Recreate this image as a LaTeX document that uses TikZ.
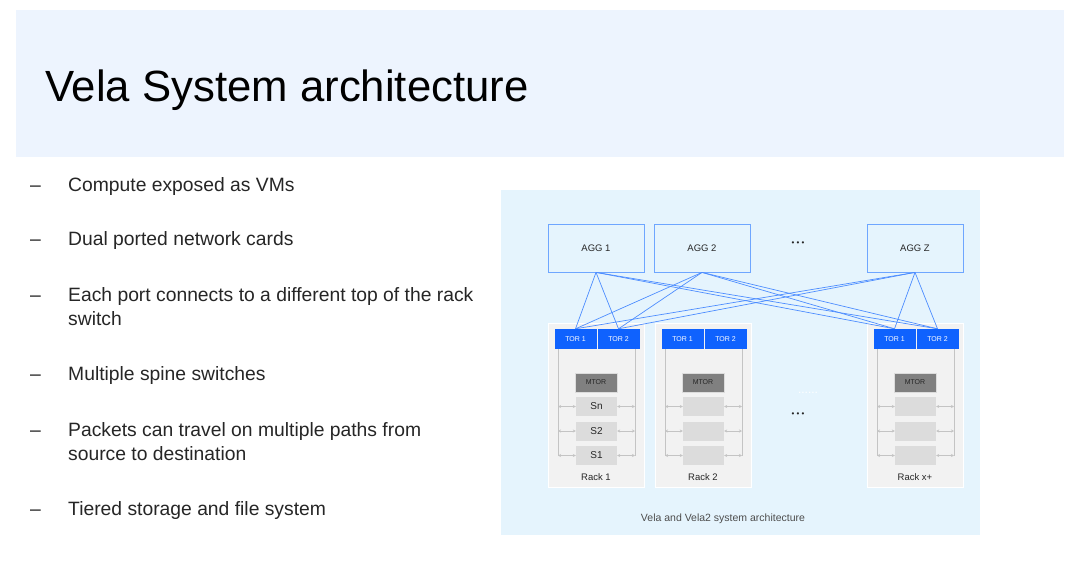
\documentclass[tikz,border=0pt]{standalone}
\usepackage{fontspec}
\setmainfont{Liberation Sans}
\usetikzlibrary{arrows.meta}
\definecolor{bandbg}{HTML}{EDF4FE}
\definecolor{panelbg}{HTML}{E5F4FD}
\definecolor{linkblue}{HTML}{4D8DFF}
\definecolor{aggborder}{HTML}{6EA6FF}
\definecolor{torblue}{HTML}{0F62FE}
\definecolor{rackbg}{HTML}{F2F2F2}
\definecolor{mtorgray}{HTML}{808080}
\definecolor{srvgray}{HTML}{DCDCDC}
\definecolor{wiregray}{HTML}{C4C4C4}
\definecolor{txt}{HTML}{262626}
\definecolor{captxt}{HTML}{4D4D4D}
\begin{document}
\begin{tikzpicture}[x=1pt,y=-1pt,
  bullet/.style={anchor=base west, inner sep=0, font=\fontsize{19.3}{25}\selectfont, text=txt},
  agg/.style={draw=aggborder, line width=0.8pt, fill=panelbg, minimum width=96pt, minimum height=48pt, inner sep=0, font=\fontsize{9.5}{11}\selectfont, text=txt},
  rackbox/.style={draw=white, line width=1pt, fill=rackbg, minimum width=96pt, minimum height=164pt, inner sep=0},
  tor/.style={fill=torblue, minimum width=42pt, minimum height=20pt, inner sep=0, font=\fontsize{7}{8}\selectfont, text=white},
  mtor/.style={fill=mtorgray, draw=srvgray, line width=0.5pt, minimum width=42pt, minimum height=19pt, inner sep=0, font=\fontsize{7}{8}\selectfont, text=txt},
  srv/.style={fill=srvgray, minimum width=41pt, minimum height=19pt, inner sep=0, font=\fontsize{10}{11}\selectfont, text=txt},
  wire/.style={draw=wiregray, line width=0.8pt},
  warrow/.style={draw=wiregray, line width=0.5pt, {Stealth[length=3pt,width=3pt]}-{Stealth[length=3pt,width=3pt]}},
  link/.style={draw=linkblue, line width=0.7pt},
  dots/.style={inner sep=0, font=\fontsize{8}{9}\selectfont, text=txt}
]
\useasboundingbox (0,0) rectangle (1080,579);
\fill[white] (0,0) rectangle (1080,579);
% title band
\fill[bandbg] (16,10) rectangle (1064,157);
\node[anchor=base west, inner sep=0, font=\fontsize{43.7}{50}\selectfont, text=black] (title) at (45,101) {Vela System architecture};
% bullets
\node[bullet] (d1) at (30,191) {–};
\node[bullet] (b1) at (68,191) {Compute exposed as VMs};
\node[bullet] (d2) at (30,245) {–};
\node[bullet] (b2) at (68,245) {Dual ported network cards};
\node[bullet] (d3) at (30,301) {–};
\node[bullet] (b3) at (68,301) {Each port connects to a different top of the rack};
\node[bullet] (b3b) at (68,325) {switch};
\node[bullet] (d4) at (30,380) {–};
\node[bullet] (b4) at (68,380) {Multiple spine switches};
\node[bullet] (d5) at (30,436) {–};
\node[bullet] (b5) at (68,436) {Packets can travel on multiple paths from};
\node[bullet] (b5b) at (68,460) {source to destination};
\node[bullet] (d6) at (30,515) {–};
\node[bullet] (b6) at (68,515) {Tiered storage and file system};
% diagram panel
\fill[panelbg] (501,190) rectangle (980,535);
\node[agg] (agg1) at (596,248) {AGG 1};
\node[agg] (agg2) at (702,248) {AGG 2};
\node[agg] (aggz) at (915,248) {AGG Z};
\node[dots] (aggdots) at (798,244) {• • •};
% racks
\foreach \off/\n/\lab/\sa/\sb/\sc in {0/1/Rack 1/Sn/S2/S1, 107/2/Rack 2/{}/{}/{}, 319/3/Rack x+/{}/{}/{}}{
  \node[rackbox] (r\n-box) at (596+\off,405) {};
  \node[tor] (r\n-t1) at (575.5+\off,339) {TOR 1};
  \node[tor] (r\n-t2) at (618.5+\off,339) {TOR 2};
  \node[mtor] (r\n-mtor) at (596+\off,382.5) {MTOR};
  \node[srv] (r\n-s3) at (596.5+\off,406.5) {\sa};
  \node[srv] (r\n-s2) at (596.5+\off,431) {\sb};
  \node[srv] (r\n-s1) at (596.5+\off,455.5) {\sc};
  \node[inner sep=0, font=\fontsize{9.5}{11}\selectfont, text=txt] (r\n-lab) at (596+\off,477) {\lab};
  \coordinate (r\n-lt) at (558+\off,349);
  \coordinate (r\n-lb) at (558+\off,455.5);
  \coordinate (r\n-rt) at (635+\off,349);
  \coordinate (r\n-rb) at (635+\off,455.5);
  \draw[wire] (r\n-lt) -- (r\n-lb);
  \draw[wire] (r\n-rt) -- (r\n-rb);
  \foreach \s in {s3,s2,s1}{
    \draw[warrow] (r\n-\s.west -| r\n-lt) -- (r\n-\s.west);
    \draw[warrow] (r\n-\s.east) -- (r\n-\s.east -| r\n-rt);
  }
}
% links
\foreach \a in {agg1,agg2,aggz}{
  \foreach \t in {r1-t1,r1-t2,r3-t1,r3-t2}{
    \draw[link] (\a.south) -- (\t.north);
  }
}
% dots between racks
\node[inner sep=0, font=\fontsize{12}{13}\selectfont, text=white] (wdots) at (808,393) {......};
\node[dots] (bdots) at (798,415) {• • •};
% caption
\node[inner sep=0, font=\fontsize{10.5}{12}\selectfont, text=captxt] (caption) at (723,519) {Vela and Vela2 system architecture};
\end{tikzpicture}
\end{document}
